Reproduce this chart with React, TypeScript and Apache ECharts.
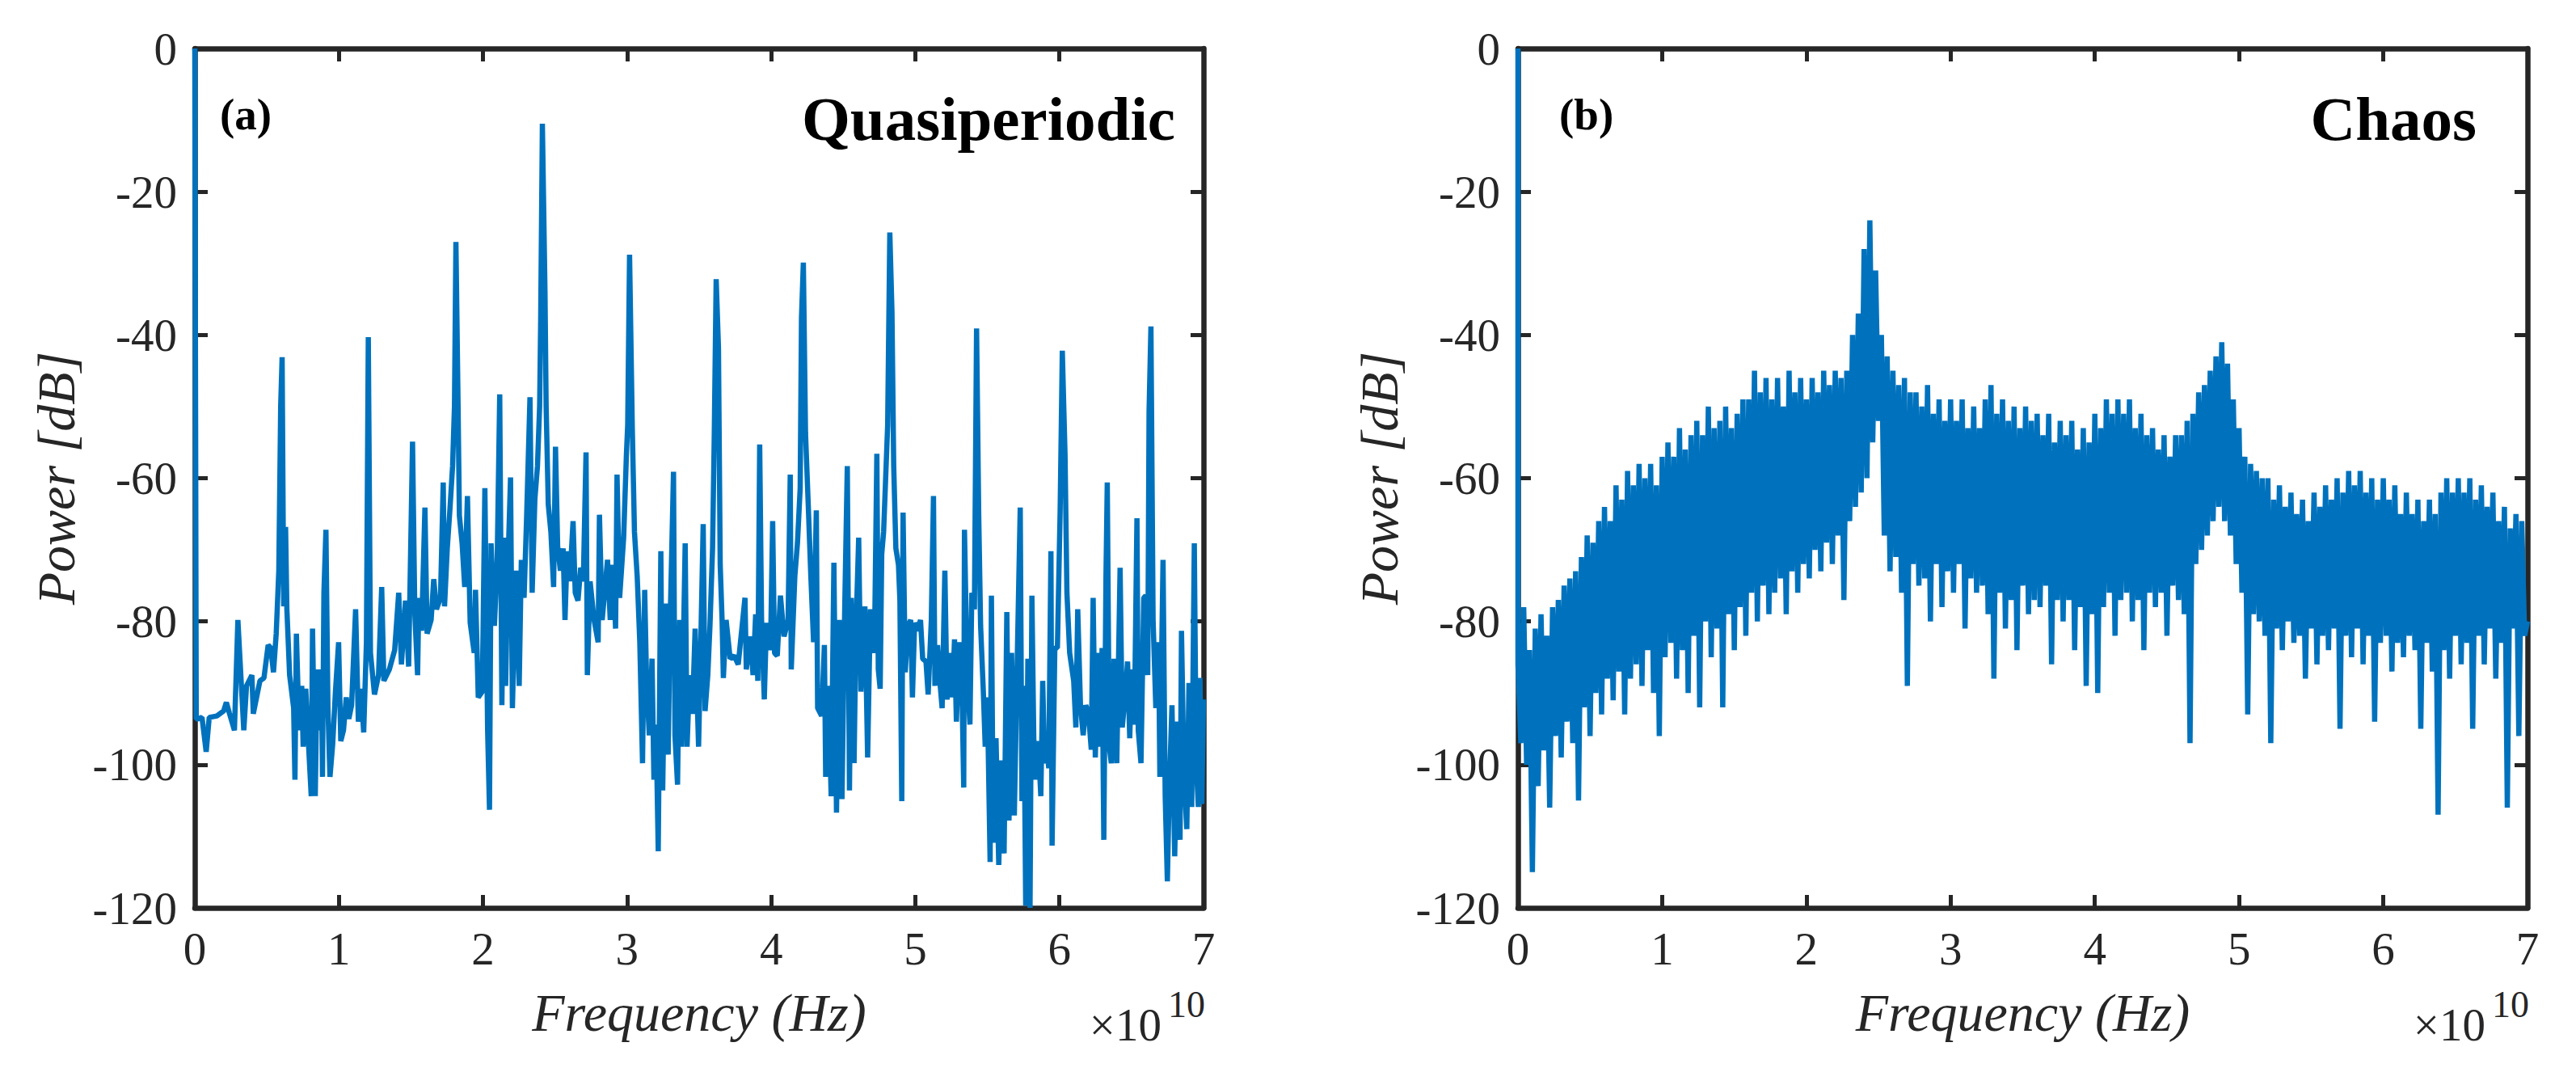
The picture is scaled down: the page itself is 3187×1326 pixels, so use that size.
import { useEffect, useRef } from "react";
import * as echarts from "echarts";

// axis ranges (frequency in units of 1e10 Hz, power in dB)
const freqMin = 0;
const freqMax = 7;
const freqStep = 1;
const powerMin = -120;
const powerMax = 0;
const powerStep = 20;

// (a) quasiperiodic spectrum, [frequency, power]
const quasiperiodic: [number, number][] = [
  [0, 0], [0.01, -93.6], [0.022, -93.6], [0.05, -93.4], [0.079, -98.2], [0.1, -93.4],
  [0.153, -93.2], [0.2, -92.5], [0.219, -91.3], [0.24, -92.8], [0.275, -95.2], [0.299, -79.8],
  [0.34, -95.2], [0.359, -89.0], [0.396, -87.5], [0.406, -92.9], [0.452, -88.3], [0.48, -87.9],
  [0.509, -83.3], [0.527, -83.7], [0.546, -87.1], [0.565, -81.7], [0.583, -72.9], [0.596, -49.9],
  [0.606, -43.1], [0.617, -77.9], [0.63, -66.8], [0.639, -78.3], [0.658, -87.5], [0.686, -92.1],
  [0.695, -102.1], [0.705, -81.7], [0.724, -95.2], [0.742, -89.0], [0.752, -97.5], [0.77, -89.4],
  [0.789, -97.1], [0.808, -104.4], [0.817, -81.0], [0.836, -104.4], [0.849, -86.7], [0.864, -95.2],
  [0.879, -86.7], [0.886, -101.7], [0.896, -76.0], [0.91, -67.2], [0.924, -92.1], [0.938, -101.7],
  [0.957, -97.1], [0.976, -89.8], [0.998, -82.9], [1.013, -96.7], [1.032, -95.2], [1.051, -90.6],
  [1.069, -93.6], [1.088, -91.7], [1.116, -78.3], [1.135, -94.0], [1.153, -89.4], [1.172, -95.5],
  [1.191, -82.9], [1.204, -40.3], [1.219, -84.4], [1.247, -90.2], [1.275, -87.5], [1.297, -75.2],
  [1.312, -88.3], [1.35, -86.7], [1.387, -84.0], [1.415, -76.0], [1.434, -86.0], [1.462, -77.1],
  [1.484, -86.3], [1.511, -54.9], [1.527, -79.0], [1.546, -87.5], [1.555, -76.7], [1.574, -81.3],
  [1.597, -64.1], [1.612, -81.7], [1.64, -79.8], [1.658, -74.1], [1.677, -78.3], [1.705, -76.7],
  [1.724, -60.6], [1.733, -77.9], [1.752, -69.8], [1.77, -64.5], [1.789, -58.3], [1.802, -49.9],
  [1.812, -27.0], [1.827, -49.9], [1.836, -65.2], [1.855, -69.1], [1.873, -75.2], [1.892, -62.5],
  [1.911, -80.2], [1.939, -84.4], [1.948, -75.6], [1.967, -90.6], [1.995, -89.8], [2.013, -61.4],
  [2.032, -95.2], [2.045, -106.3], [2.056, -69.1], [2.079, -80.6], [2.098, -72.1], [2.116, -48.3],
  [2.131, -91.7], [2.144, -68.3], [2.157, -89.0], [2.172, -72.9], [2.191, -59.9], [2.204, -92.1],
  [2.228, -72.9], [2.251, -89.0], [2.266, -71.4], [2.285, -76.7], [2.303, -65.2], [2.326, -48.7],
  [2.341, -76.0], [2.36, -62.9], [2.378, -58.3], [2.393, -49.9], [2.4, -38.4], [2.412, -10.5],
  [2.43, -33.8], [2.438, -49.9], [2.453, -63.7], [2.471, -67.5], [2.49, -75.2], [2.503, -55.6],
  [2.518, -69.5], [2.537, -72.9], [2.556, -69.8], [2.569, -79.8], [2.584, -70.2], [2.602, -74.4],
  [2.625, -66.0], [2.64, -76.0], [2.659, -77.1], [2.678, -72.5], [2.696, -74.4], [2.715, -56.4],
  [2.724, -87.5], [2.743, -74.4], [2.771, -79.8], [2.799, -82.9], [2.808, -65.1], [2.827, -79.8],
  [2.864, -71.4], [2.883, -79.8], [2.902, -72.1], [2.92, -81.0], [2.93, -59.5], [2.948, -76.7],
  [2.976, -68.3], [2.995, -56.8], [3.004, -52.6], [3.017, -28.8], [3.036, -53.0], [3.051, -67.5],
  [3.07, -73.7], [3.088, -82.9], [3.107, -99.8], [3.122, -75.6], [3.135, -88.3], [3.154, -95.9],
  [3.173, -85.2], [3.186, -102.1], [3.201, -94.4], [3.216, -112.1], [3.234, -70.2], [3.247, -103.6],
  [3.266, -77.5], [3.285, -98.6], [3.298, -80.6], [3.322, -59.1], [3.332, -95.9], [3.35, -102.8],
  [3.365, -79.8], [3.378, -97.5], [3.403, -69.1], [3.416, -97.5], [3.434, -87.5], [3.453, -92.9],
  [3.472, -81.0], [3.496, -97.5], [3.509, -85.2], [3.528, -66.4], [3.541, -92.5], [3.56, -87.5],
  [3.575, -80.6], [3.593, -69.8], [3.605, -53.7], [3.618, -32.2], [3.634, -41.8], [3.646, -72.1],
  [3.659, -79.8], [3.668, -87.9], [3.687, -79.8], [3.715, -85.2], [3.743, -84.8], [3.771, -86.0],
  [3.818, -76.7], [3.827, -86.7], [3.855, -82.1], [3.874, -87.5], [3.892, -79.0], [3.907, -88.3],
  [3.92, -55.3], [3.933, -79.8], [3.952, -90.9], [3.967, -80.2], [3.995, -84.0], [4.01, -66.0],
  [4.023, -84.4], [4.042, -84.8], [4.064, -76.4], [4.089, -82.1], [4.117, -79.8], [4.132, -59.5],
  [4.139, -86.7], [4.164, -73.7], [4.182, -69.1], [4.201, -61.4], [4.21, -37.6], [4.223, -29.9],
  [4.238, -53.7], [4.257, -63.7], [4.275, -73.7], [4.294, -82.9], [4.313, -64.5], [4.322, -92.1],
  [4.35, -93.2], [4.369, -83.3], [4.378, -101.7], [4.397, -89.0], [4.416, -104.4], [4.435, -71.8],
  [4.453, -106.7], [4.472, -79.8], [4.491, -104.8], [4.51, -78.3], [4.528, -58.3], [4.543, -103.6],
  [4.556, -76.7], [4.575, -99.8], [4.588, -81.3], [4.607, -68.3], [4.622, -89.8], [4.65, -77.9],
  [4.669, -99.0], [4.688, -78.3], [4.716, -84.4], [4.733, -56.6], [4.743, -86.7], [4.756, -89.4],
  [4.767, -70.6], [4.78, -67.5], [4.793, -60.6], [4.808, -52.6], [4.823, -25.7], [4.838, -36.8],
  [4.85, -58.3], [4.865, -69.8], [4.883, -72.1], [4.893, -77.1], [4.906, -105.1], [4.915, -64.8],
  [4.93, -87.1], [4.949, -80.6], [4.968, -79.8], [4.98, -90.6], [4.995, -80.2], [5.014, -81.3],
  [5.036, -79.8], [5.051, -85.2], [5.074, -85.6], [5.089, -90.2], [5.111, -79.8], [5.126, -62.5],
  [5.136, -89.0], [5.154, -83.3], [5.173, -89.0], [5.186, -92.1], [5.205, -72.9], [5.22, -90.9],
  [5.238, -84.4], [5.257, -90.6], [5.272, -82.5], [5.285, -94.0], [5.304, -82.9], [5.322, -87.5],
  [5.336, -103.2], [5.341, -67.2], [5.36, -87.5], [5.379, -94.4], [5.392, -76.0], [5.41, -78.3],
  [5.425, -39.1], [5.44, -65.2], [5.453, -80.6], [5.472, -89.8], [5.485, -97.5], [5.5, -90.6],
  [5.519, -113.6], [5.528, -76.4], [5.541, -110.9], [5.56, -96.3], [5.579, -114.0], [5.597, -99.4],
  [5.616, -112.4], [5.635, -78.7], [5.65, -107.8], [5.668, -84.4], [5.687, -107.1], [5.706, -86.7],
  [5.728, -64.1], [5.74, -105.1], [5.753, -89.0], [5.766, -119.7], [5.781, -85.2], [5.796, -120],
  [5.809, -76.4], [5.822, -96.3], [5.837, -102.1], [5.852, -96.7], [5.871, -104.4], [5.884, -88.3],
  [5.897, -99.8], [5.915, -98.2], [5.926, -100.5], [5.941, -70.2], [5.949, -111.3], [5.968, -83.7],
  [5.986, -83.7], [6.005, -64.5], [6.02, -42.2], [6.039, -56.8], [6.052, -76.0], [6.071, -84.4],
  [6.099, -88.3], [6.114, -94.8], [6.127, -78.3], [6.146, -91.7], [6.165, -95.9], [6.183, -91.7],
  [6.202, -92.9], [6.221, -97.9], [6.234, -76.7], [6.249, -99.0], [6.268, -84.4], [6.283, -97.5],
  [6.296, -83.7], [6.308, -110.5], [6.323, -73.7], [6.332, -60.6], [6.346, -97.5], [6.36, -99.8],
  [6.379, -85.2], [6.398, -99.8], [6.421, -72.5], [6.436, -94.8], [6.455, -90.6], [6.473, -85.6],
  [6.488, -96.3], [6.501, -86.7], [6.52, -94.4], [6.538, -65.6], [6.547, -95.2], [6.566, -99.8],
  [6.585, -76.7], [6.6, -76.4], [6.613, -87.5], [6.622, -50.7], [6.635, -38.8], [6.65, -79.8],
  [6.669, -92.1], [6.688, -82.9], [6.697, -101.7], [6.719, -71.4], [6.734, -104.4], [6.749, -116.3],
  [6.762, -103.6], [6.781, -91.7], [6.8, -112.8], [6.818, -94.0], [6.837, -110.5], [6.847, -81.3],
  [6.865, -102.1], [6.884, -109.0], [6.899, -88.6], [6.918, -105.9], [6.936, -69.1], [6.949, -99.8],
  [6.964, -105.9], [6.975, -87.9], [6.988, -105.5], [7.0, -90.9],
];

// (b) chaos spectrum: DC bin, then evenly spaced bins
const chaosDc = 0;
const chaosBin = 0.02;
const chaosPower = [
  -86, -97, -78, -100, -84, -115, -81, -103, -79, -98,
  -82, -106, -78, -96, -77, -99, -75, -94, -74, -97,
  -73, -105, -71, -92, -68, -96, -69, -90, -66, -93,
  -64, -88, -66, -91, -61, -87, -63, -93, -59, -88,
  -61, -86, -58, -89, -60, -84, -58, -90, -61, -96,
  -57, -85, -55, -83, -57, -88, -53, -84, -56, -90,
  -54, -82, -52, -92, -54, -80, -50, -85, -53, -81,
  -52, -92, -50, -79, -53, -84, -51, -78, -49, -82,
  -49, -76, -45, -80, -48, -75, -46, -79, -49, -76,
  -46, -74, -50, -79, -45, -73, -48, -76, -46, -72,
  -49, -74, -46, -70, -48, -73, -45, -69, -47, -72,
  -45, -68, -46, -77, -45, -66, -40, -64, -37, -62,
  -28, -60, -24, -55, -31, -52, -40, -68, -43, -73,
  -45, -71, -47, -76, -46, -89, -48, -72, -48, -75,
  -50, -74, -47, -80, -51, -72, -49, -78, -52, -73,
  -49, -76, -52, -72, -49, -81, -53, -74, -50, -76,
  -53, -75, -49, -79, -47, -88, -51, -76, -49, -81,
  -52, -77, -50, -84, -53, -75, -50, -79, -52, -77,
  -51, -78, -54, -75, -51, -86, -55, -77, -52, -80,
  -54, -77, -52, -84, -56, -78, -53, -89, -55, -79,
  -51, -90, -53, -78, -49, -76, -51, -82, -49, -77,
  -51, -76, -49, -80, -53, -77, -51, -84, -54, -76,
  -53, -78, -56, -76, -54, -82, -57, -75, -54, -77,
  -54, -79, -52, -97, -51, -72, -48, -70, -47, -68,
  -45, -66, -43, -64, -41, -66, -44, -68, -49, -72,
  -53, -76, -57, -93, -58, -79, -59, -80, -60, -82,
  -60, -97, -63, -81, -61, -84, -64, -80, -62, -83,
  -65, -82, -63, -88, -66, -81, -62, -86, -64, -82,
  -61, -84, -63, -81, -60, -95, -62, -82, -59, -85,
  -61, -81, -59, -86, -62, -82, -60, -94, -63, -83,
  -60, -82, -63, -87, -61, -83, -65, -85, -62, -82,
  -65, -84, -63, -95, -66, -83, -63, -87, -65, -107,
  -62, -84, -60, -88, -62, -82, -60, -86, -62, -83,
  -60, -95, -63, -82, -61, -86, -64, -81, -62, -88,
  -66, -83, -64, -106, -67, -81, -65, -96, -66, -82,
  -80,
];

const panelLabels = ["(a)", "(b)"];
const panelTitles = ["Quasiperiodic", "Chaos"];
const xName = "Frequency (Hz)";
const yName = "Power [dB]";
const xExponent = "10";

const AXIS = "#262626";
const BLUE = "#0072BD";
const FONT = "'Liberation Serif', 'Times New Roman', serif";

const grids = [
  { left: 241, top: 60, width: 1248, height: 1063 },
  { left: 1878, top: 60, width: 1249, height: 1063 },
];

function xAxes(gridIndex: number) {
  const base = {
    type: "value",
    gridIndex,
    min: freqMin,
    max: freqMax,
    interval: freqStep,
    splitLine: { show: false },
    axisLine: { onZero: false, lineStyle: { color: AXIS, width: 6.5 } },
    axisTick: { inside: true, length: 16, lineStyle: { color: AXIS, width: 5 } },
  };
  return [
    {
      ...base,
      position: "bottom",
      axisLabel: { color: AXIS, fontFamily: FONT, fontSize: 57, margin: 22 },
      name: xName,
      nameLocation: "middle",
      nameGap: 96,
      nameTextStyle: { color: AXIS, fontFamily: FONT, fontStyle: "italic", fontSize: 66 },
    },
    { ...base, position: "top", axisLabel: { show: false } },
  ];
}

function yAxes(gridIndex: number) {
  const base = {
    type: "value",
    gridIndex,
    min: powerMin,
    max: powerMax,
    interval: powerStep,
    splitLine: { show: false },
    axisLine: { onZero: false, lineStyle: { color: AXIS, width: 6.5 } },
    axisTick: { inside: true, length: 16, lineStyle: { color: AXIS, width: 5 } },
  };
  return [
    {
      ...base,
      position: "left",
      axisLabel: { color: AXIS, fontFamily: FONT, fontSize: 57, margin: 22 },
      name: yName,
      nameLocation: "middle",
      nameGap: 139,
      nameTextStyle: { color: AXIS, fontFamily: FONT, fontStyle: "italic", fontSize: 66 },
    },
    { ...base, position: "right", axisLabel: { show: false } },
  ];
}

function annotations() {
  const out: any[] = [];
  grids.forEach((g, i) => {
    const right = g.left + g.width;
    out.push({
      type: "text",
      x: i === 0 ? g.left + 31 : g.left + 51,
      y: 141,
      style: { text: panelLabels[i], fill: "#000", fontFamily: FONT, fontWeight: "bold", fontSize: 55, align: "left", verticalAlign: "middle" },
    });
    out.push({
      type: "text",
      x: i === 0 ? right - 35 : right - 63,
      y: 147,
      style: { text: panelTitles[i], fill: "#000", fontFamily: FONT, fontWeight: "bold", fontSize: 77, align: "right", verticalAlign: "middle" },
    });
    out.push({
      type: "text",
      x: right - 52,
      y: 1267,
      style: { text: "\u00d710", fill: AXIS, fontFamily: FONT, fontSize: 57, align: "right", verticalAlign: "middle" },
    });
    out.push({
      type: "text",
      x: right - 44,
      y: 1242,
      style: { text: xExponent, fill: AXIS, fontFamily: FONT, fontSize: 46, align: "left", verticalAlign: "middle" },
    });
  });
  return out;
}

export default function App() {
  const ref = useRef<HTMLDivElement>(null);

  useEffect(() => {
    if (!ref.current) return;
    document.body.style.margin = "0";
    const chart = echarts.init(ref.current, undefined, { renderer: "svg" });

    const chaosData: [number, number][] = [[0, chaosDc]];
    chaosPower.forEach((v, i) => chaosData.push([i * chaosBin, v]));

    const lineStyle = { color: BLUE, width: 6.5, join: "bevel", cap: "butt" };

    chart.setOption({
      animation: false,
      backgroundColor: "#fff",
      grid: grids,
      xAxis: [...xAxes(0), ...xAxes(1)],
      yAxis: [...yAxes(0), ...yAxes(1)],
      series: [
        {
          type: "line",
          xAxisIndex: 0,
          yAxisIndex: 0,
          data: quasiperiodic,
          symbol: "none",
          lineStyle,
        },
        {
          type: "line",
          xAxisIndex: 2,
          yAxisIndex: 2,
          data: chaosData,
          symbol: "none",
          lineStyle,
        },
      ],
      graphic: annotations(),
    });

    return () => chart.dispose();
  }, []);

  return <div ref={ref} style={{ width: 3187, height: 1326 }} />;
}
